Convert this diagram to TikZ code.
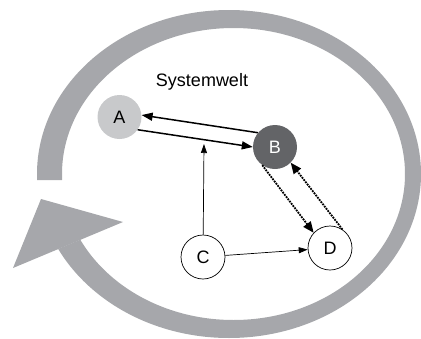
\documentclass[tikz,border=0pt]{standalone}
\usepackage{fontspec}
\setmainfont{Liberation Sans}
\usetikzlibrary{arrows.meta,positioning}
\definecolor{ringgray}{HTML}{A6A7AB}
\definecolor{hellgrau}{HTML}{C8C9CB}
\definecolor{dunkelgrau}{HTML}{636467}

\begin{document}
\begin{tikzpicture}[x=1pt,y=-1pt,
  knoten/.style={circle,minimum size=44pt,inner sep=0pt,font=\fontsize{18}{21}\selectfont},
  fluss/.style={line width=1.5pt,-{Triangle[length=11pt,width=8pt]}},
  punktfluss/.style={line width=1.8pt,densely dotted,-{Triangle[length=11pt,width=9pt]}},
  duenn/.style={line width=0.7pt,-{Triangle[length=9pt,width=6pt]}}]
\useasboundingbox (0,0) rectangle (421,338);
% Kreislauf
\begin{scope}
\clip (0,0) -- (421,0) -- (421,338) -- (0,338) -- (0,273) -- (140,215) -- (140,180) -- (0,180) -- cycle;
\fill[ringgray,even odd rule] (229,174) ellipse [x radius=192pt,y radius=164pt]
  (233.5,174) ellipse [x radius=171.5pt,y radius=146pt];
\end{scope}
\fill[ringgray] (41,199) -- (123,222) -- (13,268) -- cycle;
% Systemwelt
\node[font=\fontsize{18}{21}\selectfont] (welt) at (202,82) {Systemwelt};
\node[knoten,fill=hellgrau] (A) at (119.5,117) {A};
\node[knoten,fill=dunkelgrau,text=white] (B) at (275,147) {B};
\node[knoten,draw,line width=0.7pt,fill=white] (C) at (203,257) {C};
\node[knoten,draw,line width=0.7pt,fill=white] (D) at (330,248) {D};
\coordinate (ab) at (204,144);
\draw[fluss] (A.-35) -- (B.180);
\draw[fluss] (B.140) -- (A.5);
\draw[duenn] (C) -- (ab);
\draw[duenn] (C) -- (D);
\draw[punktfluss] (B.-125) -- (D.137);
\draw[punktfluss] (D.56) -- (B.-45);
\end{tikzpicture}
\end{document}
